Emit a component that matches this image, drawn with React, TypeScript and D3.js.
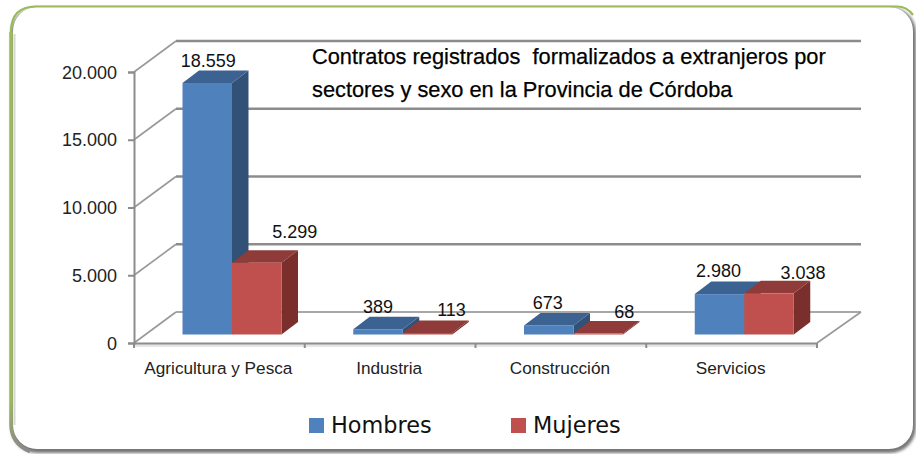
import React, { useEffect, useRef } from "react";
import * as d3 from "d3";

const categories = ["Agricultura y Pesca", "Industria", "Construcción", "Servicios"];
const seriesNames = ["Hombres", "Mujeres"];
const hombres = [18559, 389, 673, 2980];
const mujeres = [5299, 113, 68, 3038];
const yTicks = [0, 5000, 10000, 15000, 20000];
const titleLines = [
  "Contratos registrados  formalizados a extranjeros por",
  "sectores y sexo en la Provincia de Córdoba",
];

const frontColors = ["#4f81bd", "#c0504d"];
const topColors = ["#3c6291", "#8e3b39"];
const sideColors = ["#325176", "#7a2f2d"];
const font = "'Liberation Sans', Arial, sans-serif";

// label nudges per series/category, the labels do not sit on the bars in the original
const labelDx = [[1, 0, -1, -1], [38, 24, 26, 34]];
const labelDy = [[-3.5, -4, -4, -4.5], [-12, -4.5, -3, -2]];

export default function App() {
  const ref = useRef<SVGSVGElement>(null);

  useEffect(() => {
    const svg = d3.select(ref.current);
    svg.selectAll("*").remove();

    const x0 = 134, x1 = 817, yBase = 343, yTop = 72;
    const depthX = 42, depthY = 31;
    const barDx = 16.5, barDy = 12.5, floorLift = 8.5;

    const x = d3.scaleBand<string>().domain(categories).range([x0, x1]);
    const xSeries = d3.scaleBand<string>().domain(seriesNames).range([48.5, 147.5]);
    const y = d3.scaleLinear().domain([0, 20000]).range([yBase, yTop]);
    const locale = d3.formatLocale({ decimal: ",", thousands: ".", grouping: [3], currency: ["", ""] });
    const fmt = locale.format(",");

    const defs = svg.append("defs");
    const shadow = defs.append("filter").attr("id", "panelShadow")
      .attr("x", "-5%").attr("y", "-5%").attr("width", "110%").attr("height", "110%");
    shadow.append("feGaussianBlur").attr("stdDeviation", 1.6);
    const edge = defs.append("linearGradient").attr("id", "leftEdge")
      .attr("gradientUnits", "userSpaceOnUse")
      .attr("x1", 0).attr("y1", 400).attr("x2", 0).attr("y2", 450);
    edge.append("stop").attr("offset", 0).attr("stop-color", "#9bbb59");
    edge.append("stop").attr("offset", 1).attr("stop-color", "#8a8a8a");

    // panel
    svg.append("rect").attr("x", 11).attr("y", 7).attr("width", 905).attr("height", 446).attr("rx", 26)
      .attr("fill", "#777").attr("filter", "url(#panelShadow)");
    svg.append("rect").attr("x", 13).attr("y", 7).attr("width", 900).attr("height", 442).attr("rx", 24)
      .attr("fill", "#fff");
    svg.append("path").attr("d", "M14.5 34 V425")
      .attr("fill", "none").attr("stroke", "#d5d5d5").attr("stroke-width", 2);
    svg.append("path")
      .attr("d", "M11 32 Q11 6.5 36 6.5 H897 Q907 6.5 913 15")
      .attr("fill", "none").attr("stroke", "#9bbb59").attr("stroke-width", 2.2);
    svg.append("path").attr("d", "M11 32 V424 Q11 444 30 451.5")
      .attr("fill", "none").attr("stroke", "url(#leftEdge)").attr("stroke-width", 3.5);

    // back wall grid and the slanted lines
    const grid = svg.append("g").attr("fill", "none").attr("stroke", "#8c8c8c");
    yTicks.forEach(t => {
      const yy = y(t);
      grid.append("line")
        .attr("x1", x0 + depthX).attr("x2", x1 + depthX + 2)
        .attr("y1", yy - depthY).attr("y2", yy - depthY)
        .attr("stroke-width", t === 0 ? 2 : 2.4)
        .attr("stroke", t === 0 ? "#a8a8a8" : "#8c8c8c");
      grid.append("line")
        .attr("x1", x0).attr("x2", x0 + depthX)
        .attr("y1", yy).attr("y2", yy - depthY)
        .attr("stroke-width", 1.6).attr("stroke", "#999");
    });
    grid.append("line")
      .attr("x1", x1).attr("x2", x1 + depthX + 2)
      .attr("y1", yBase).attr("y2", yBase - depthY)
      .attr("stroke-width", 1.6).attr("stroke", "#999");
    svg.append("rect").attr("x", x0).attr("y", yBase + 1).attr("width", x1 - x0).attr("height", 3).attr("fill", "#e6e6e6");

    // bars, back to front
    const bars = svg.append("g");
    categories.forEach((c, i) => {
      [hombres, mujeres].forEach((values, s) => {
        const v = values[i];
        const left = x(c)! + xSeries(seriesNames[s])!;
        const w = xSeries.bandwidth();
        const bottom = yBase - floorLift;
        const top = bottom - (yBase - y(v));
        const g = bars.append("g");
        g.append("path").attr("fill", sideColors[s])
          .attr("d", d3.line()([[left + w, top], [left + w + barDx, top - barDy], [left + w + barDx, bottom - barDy], [left + w, bottom]]) + "Z");
        g.append("path").attr("fill", topColors[s])
          .attr("d", d3.line()([[left, top], [left + barDx, top - barDy], [left + w + barDx, top - barDy], [left + w, top]]) + "Z");
        g.append("rect").attr("x", left).attr("y", top).attr("width", w).attr("height", bottom - top).attr("fill", frontColors[s]);
      });
    });

    // front axes
    const axisLeft = svg.append("g").attr("transform", `translate(${x0},0)`)
      .call(d3.axisLeft(y).tickValues(yTicks).tickFormat(d => fmt(+d)).tickSize(6).tickPadding(11));
    const axisBottom = svg.append("g").attr("transform", `translate(0,${yBase})`)
      .call(d3.axisBottom(x).tickSize(0).tickPadding(0));
    axisLeft.selectAll("path, line").attr("stroke", "#8c8c8c").attr("stroke-width", 2);
    axisBottom.select("path").attr("stroke", "#8c8c8c").attr("stroke-width", 2);
    axisLeft.selectAll("text").attr("font-family", font).attr("font-size", 18).attr("fill", "#222").attr("dy", "0.34em");
    axisBottom.selectAll("text").remove();
    axisBottom.selectAll(".tick line").remove();
    d3.range(5).forEach(i => {
      const tx = x0 + (i * (x1 - x0)) / 4;
      svg.append("line").attr("x1", tx).attr("x2", tx).attr("y1", yBase).attr("y2", yBase + 5)
        .attr("stroke", "#8c8c8c").attr("stroke-width", 2);
    });

    // category labels
    categories.forEach(c => {
      svg.append("text").text(c)
        .attr("x", x(c)! + x.bandwidth() / 2 - 1).attr("y", 374)
        .attr("text-anchor", "middle").attr("font-family", font).attr("font-size", 17.2).attr("fill", "#222");
    });

    // value labels
    [hombres, mujeres].forEach((values, s) => {
      values.forEach((v, i) => {
        const c = categories[i];
        const cx = x(c)! + xSeries(seriesNames[s])! + xSeries.bandwidth() / 2;
        svg.append("text").text(fmt(v))
          .attr("x", cx + labelDx[s][i])
          .attr("y", yBase - floorLift - (yBase - y(v)) - barDy + labelDy[s][i])
          .attr("text-anchor", "middle").attr("font-family", font).attr("font-size", 18).attr("fill", "#111");
      });
    });

    // title
    titleLines.forEach((line, i) => {
      svg.append("text").text(line)
        .attr("x", 312).attr("y", 64 + i * 33)
        .style("white-space", "pre")
        .attr("font-family", font).attr("font-size", 21.8).attr("fill", "#000")
        .attr("stroke", "#000").attr("stroke-width", 0.25);
    });

    // legend
    const legendX = [309, 511];
    seriesNames.forEach((name, s) => {
      svg.append("rect").attr("x", legendX[s]).attr("y", 418).attr("width", 15).attr("height", 15).attr("fill", frontColors[s]);
      svg.append("text").text(name)
        .attr("x", legendX[s] + 22).attr("y", 433)
        .attr("font-family", "'DejaVu Sans', sans-serif").attr("font-size", 22.4).attr("fill", "#111");
    });
  }, []);

  return <svg ref={ref} width={916} height={454} style={{ position: "absolute", left: 0, top: 0, background: "#fff" }} />;
}
